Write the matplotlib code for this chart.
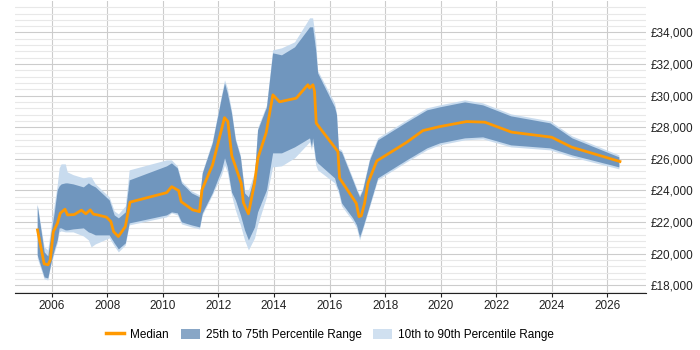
import matplotlib
matplotlib.use('Agg')
import matplotlib.pyplot as plt
from matplotlib.ticker import MultipleLocator, FuncFormatter
from matplotlib.patches import Patch
from matplotlib.lines import Line2D

plt.rcParams['font.family'] = ['Liberation Sans', 'DejaVu Sans']

# median salary line
med_years = [2005.49, 2005.73, 2005.87, 2005.95, 2006.06, 2006.21, 2006.31, 2006.48,
             2006.57, 2006.81, 2007.07, 2007.23, 2007.39, 2007.50, 2007.65, 2007.97,
             2008.13, 2008.23, 2008.40, 2008.65, 2008.82, 2010.14, 2010.32, 2010.57,
             2010.66, 2011.07, 2011.32, 2011.41, 2011.79, 2012.22, 2012.34, 2012.48,
             2012.82, 2012.90, 2013.08, 2013.30, 2013.42, 2013.72, 2013.96, 2014.20,
             2014.80, 2015.22, 2015.28, 2015.40, 2015.46, 2015.52, 2016.30, 2016.36,
             2016.96, 2017.06, 2017.14, 2017.26, 2017.38, 2017.70, 2018.76, 2019.36,
             2019.96, 2020.93, 2021.59, 2022.55, 2023.99, 2024.71, 2026.45]
median = [21500, 19350, 19290, 19600, 21390, 21930, 22560, 22810,
          22450, 22470, 22750, 22520, 22770, 22500, 22450, 22310,
          22030, 21390, 21080, 21710, 23260, 23860, 24240, 23990,
          23290, 22770, 22660, 24040, 25620, 28610, 28360, 26210,
          24460, 23230, 22520, 24460, 26040, 27660, 30050, 29610,
          29840, 30690, 30480, 30690, 30260, 28260, 26460, 24780,
          23190, 22340, 22390, 23190, 24460, 25870, 27030, 27790,
          28040, 28360, 28320, 27690, 27370, 26740, 25830]

# percentile bands
band_years = [2005.48, 2005.73, 2005.86, 2005.98, 2006.09, 2006.20, 2006.27, 2006.34,
              2006.49, 2006.56, 2006.77, 2007.14, 2007.32, 2007.42, 2007.57, 2008.07,
              2008.25, 2008.40, 2008.65, 2008.79, 2010.13, 2010.31, 2010.52, 2010.67,
              2011.03, 2011.32, 2011.42, 2011.78, 2012.11, 2012.22, 2012.32, 2012.47,
              2012.61, 2012.79, 2012.94, 2013.08, 2013.30, 2013.41, 2013.73, 2013.95,
              2014.27, 2014.74, 2015.28, 2015.35, 2015.39, 2015.50, 2015.57, 2016.18,
              2016.25, 2016.32, 2016.43, 2016.83, 2016.97, 2017.08, 2017.19, 2017.44,
              2017.73, 2018.77, 2019.50, 2019.96, 2020.86, 2021.51, 2022.52, 2023.93,
              2024.72, 2026.41]
p90 = [23150, 20425, 20235, 21819, 23085, 24352, 25428, 25682,
       25682, 25175, 25000, 24795, 24859, 24859, 24415, 23592,
       22705, 22515, 23022, 25302, 25935, 25935, 25555, 24605,
       23972, 23719, 25175, 27138, 30052, 31002, 30495, 29102,
       27328, 26252, 24035, 24035, 25175, 27962, 29418, 32902,
       33028, 33408, 34928, 34928, 34928, 33535, 31600, 29545,
       28912, 26695, 26568, 24795, 24162, 23719, 24162, 26062,
       27328, 28468, 29228, 29418, 29735, 29545, 28848, 28405,
       27455, 26252]
p75 = [23085, 20109, 19855, 21375, 22579, 24035, 24289, 24415,
       24478, 24478, 24415, 24225, 24478, 24352, 24225, 23402,
       22452, 22262, 22642, 24669, 25555, 25745, 25428, 24478,
       23845, 23592, 25112, 27012, 29925, 30812, 30178, 28912,
       27202, 26125, 23845, 23592, 24985, 27835, 29292, 32712,
       32585, 33092, 34358, 34358, 34358, 32902, 31445, 29292,
       28785, 26568, 26442, 24669, 24035, 23592, 24035, 25935,
       27202, 28342, 29102, 29292, 29608, 29418, 28722, 28279,
       27328, 26125]
p25 = [19919, 18525, 18461, 19475, 20235, 20869, 21629, 21629,
       21502, 21502, 21565, 21629, 21375, 21312, 21185, 21185,
       20679, 20299, 20679, 21945, 22452, 22642, 22579, 22009,
       21819, 21692, 22579, 23845, 25302, 26062, 25492, 23909,
       23402, 22452, 21502, 20869, 21692, 22642, 24035, 26378,
       26378, 26759, 27328, 26759, 27328, 25935, 25745, 24795,
       24352, 24035, 23212, 22262, 21819, 21059, 21629, 23085,
       24795, 25935, 26695, 27012, 27328, 27392, 26885, 26695,
       26252, 25492]
p10 = [19729, 18398, 18334, 19349, 20045, 20679, 21375, 21439,
       21375, 21375, 21375, 21122, 20869, 20425, 20615, 20995,
       20489, 20109, 20552, 21819, 22325, 22579, 22452, 21882,
       21692, 21565, 22452, 23719, 24985, 25619, 25175, 23719,
       22769, 21819, 20869, 20235, 20995, 21819, 23592, 25492,
       25555, 26062, 27075, 26568, 27138, 25619, 25302, 24478,
       24162, 23845, 23022, 22072, 21629, 20869, 21502, 22959,
       24669, 25809, 26568, 26885, 27202, 27265, 26759, 26568,
       26125, 25365]

DARK = '#7096be'
LIGHT = '#c8dbee'
ORANGE = '#ff9900'

fig = plt.figure(figsize=(7, 3.5), dpi=100)
ax = fig.add_axes([0.021, 0.163, 0.902, 0.834])

ax.fill_between(band_years, p10, p90, color=LIGHT, linewidth=0)
ax.fill_between(band_years, p25, p75, color=DARK, linewidth=0)
ax.plot(med_years, median, color=ORANGE, linewidth=2)

ax.set_xlim(2004.67, 2027.39)
ax.set_ylim(17510, 35990)
ax.xaxis.set_major_locator(MultipleLocator(2))
ax.yaxis.set_major_locator(MultipleLocator(2000))
ax.yaxis.set_minor_locator(MultipleLocator(400))
ax.yaxis.set_major_formatter(FuncFormatter(lambda v, p: f'£{v:,.0f}'))
ax.yaxis.tick_right()

ax.grid(True, which='major', axis='both', color='#cccccc', linewidth=0.8)
ax.grid(True, which='minor', axis='y', color='#e8e8e8', linewidth=0.8)
ax.set_axisbelow(True)
ax.tick_params(axis='y', which='both', length=0, labelsize=8.5, colors='#222222', pad=3)
ax.tick_params(axis='x', length=3, width=0.8, color='#222222', labelsize=8.5,
               labelcolor='#222222', pad=2)

for side in ['top', 'left', 'right']:
    ax.spines[side].set_visible(False)
ax.spines['bottom'].set_color('#222222')

handles = [Line2D([], [], color=ORANGE, linewidth=2.5),
           Patch(facecolor='#88a6c6'),
           Patch(facecolor='#d0e0f0')]
labels = ['Median', '25th to 75th Percentile Range', '10th to 90th Percentile Range']
fig.legend(handles, labels, loc='center', bbox_to_anchor=(0.471, 0.043), ncol=3,
           frameon=False, fontsize=8.5, handlelength=1.6, handleheight=1.0,
           columnspacing=1.0, handletextpad=0.5)

fig.savefig('out.png', dpi=100)
